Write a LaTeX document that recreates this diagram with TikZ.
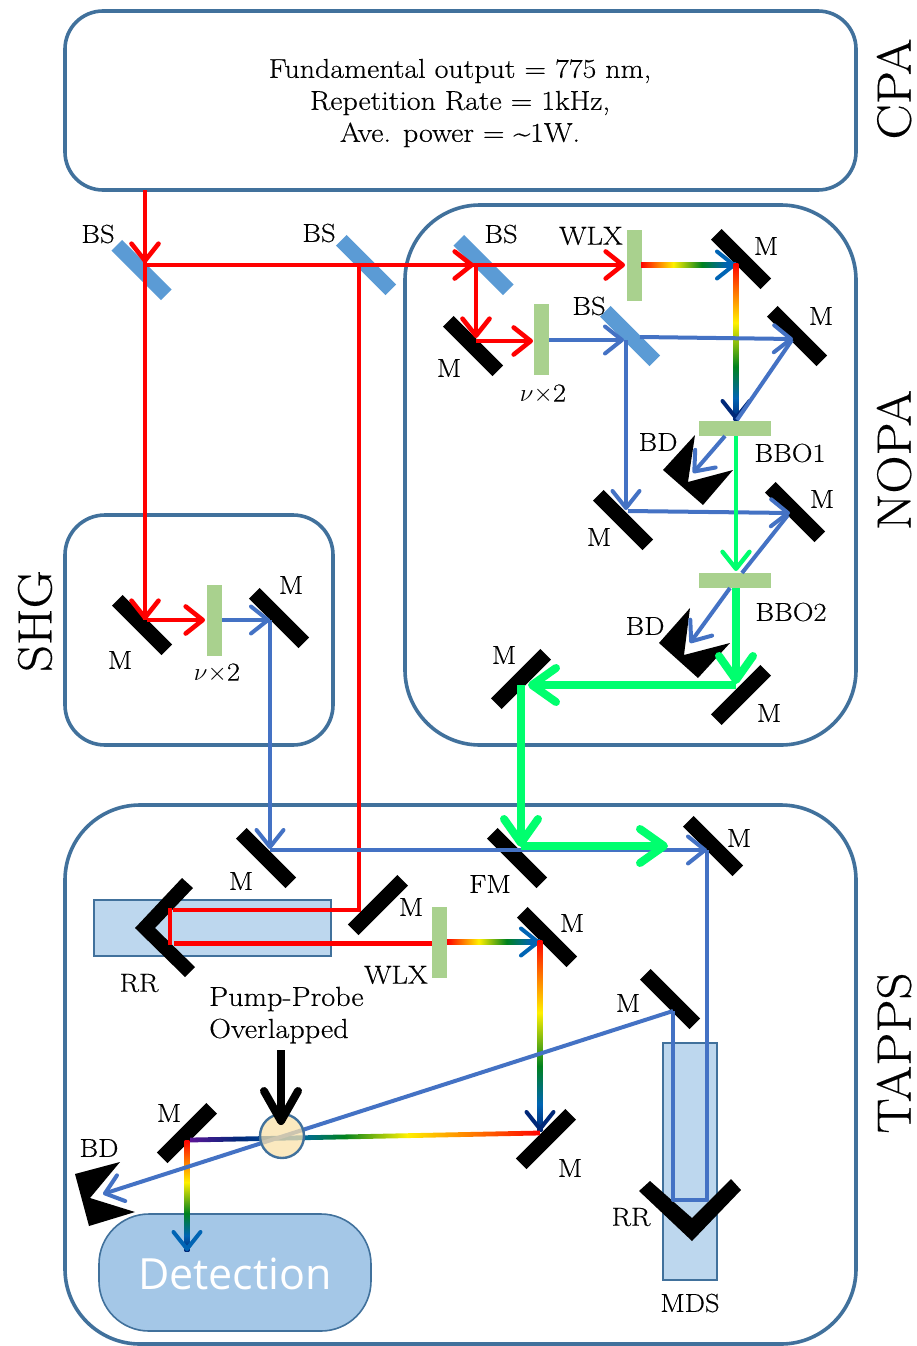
\documentclass[tikz,border=0pt]{standalone}
\usepackage{fontspec}
\setmainfont{Latin Modern Roman}[FakeStretch=1.1,FakeBold=0.35]
\newfontfamily\detfont{Open Sans}
\usetikzlibrary{arrows.meta,calc}
\definecolor{edgeblue}{RGB}{65,113,156}
\definecolor{bsblue}{RGB}{91,155,213}
\definecolor{plate}{RGB}{169,209,142}
\definecolor{beamblue}{RGB}{68,114,196}
\definecolor{beamgreen}{RGB}{0,255,110}
\definecolor{railblue}{RGB}{189,215,238}
\definecolor{detblue}{RGB}{164,199,231}
\definecolor{overlap}{RGB}{250,226,170}
\definecolor{rbA}{RGB}{255,0,0}
\definecolor{rbB}{RGB}{255,240,0}
\definecolor{rbC}{RGB}{0,130,30}
\definecolor{rbD}{RGB}{0,100,180}
\definecolor{rbE}{RGB}{0,40,120}
\definecolor{rbF}{RGB}{90,20,150}
\pgfdeclarehorizontalshading{rainbow}{100bp}{color(0bp)=(rbA);color(25bp)=(rbA);color(42bp)=(rbB);color(57bp)=(rbC);color(70bp)=(rbD);color(75bp)=(rbD);color(100bp)=(rbD)}
\pgfdeclarehorizontalshading{rainbowlong}{100bp}{color(0bp)=(rbA);color(25bp)=(rbA);color(44bp)=(rbB);color(53bp)=(rbC);color(60bp)=(rbD);color(68bp)=(rbE);color(75bp)=(rbF);color(100bp)=(rbF)}
\pgfdeclarehorizontalshading{rainbowdown}{100bp}{color(0bp)=(rbA);color(25bp)=(rbA);color(44bp)=(rbB);color(58bp)=(rbC);color(68bp)=(rbD);color(75bp)=(rbE);color(100bp)=(rbE)}
\tikzset{
  x=1pt,y=-1pt,
  group/.style={draw=edgeblue,line width=3.6pt,rounded corners=#1},
  mirror/.style={fill=black,minimum width=70pt,minimum height=15pt,inner sep=0pt,outer sep=0pt,rotate=#1},
  splitter/.style={fill=bsblue,minimum width=70pt,minimum height=15pt,inner sep=0pt,outer sep=0pt,rotate=-45},
  plateV/.style={fill=plate,minimum width=15pt,minimum height=71pt,inner sep=0pt,outer sep=0pt},
  plateH/.style={fill=plate,minimum width=72pt,minimum height=15pt,inner sep=0pt,outer sep=0pt},
  barbS/.style={-{Straight Barb[length=17pt,width=27pt,round]}},
  barbL/.style={-{Straight Barb[length=24pt,width=34pt,round]}},
  barbK/.style={-{Straight Barb[length=30pt,width=34pt,round]}},
  redb/.style={draw=red,line width=4.6pt},
  redtip/.style={redb,barbS},
  blueb/.style={draw=beamblue,line width=4pt},
  bluetip/.style={blueb,barbS},
  greenb/.style={draw=beamgreen,line width=4.4pt},
  greentip/.style={greenb,barbS},
  greenthick/.style={draw=beamgreen,line width=8pt},
  greenthicktip/.style={greenthick,barbL},
  lbl/.style={inner sep=0pt,font=\fontsize{26}{30}\selectfont,text=black},
  lblw/.style={inner sep=0pt,font=\fontsize{27.5}{32}\selectfont,text=black},
  side/.style={inner sep=0pt,rotate=90,font=\fontsize{48}{52}\selectfont,text=black},
  dumpfill/.style={fill=black},
}
% gradient beams: start point, end point
\newcommand\hrain[3][rainbow]{\shade[shading=#1,shading angle=0] ($(#2)+(0,-2.4)$) -- ($(#2)+(0,2.4)$) -- ($(#3)+(0,2.4)$) -- ($(#3)+(0,-2.4)$) -- cycle;}
\newcommand\lrain[3][rainbowlong]{\shade[shading=#1,shading angle=180] ($(#2)+(0,-2.4)$) -- ($(#2)+(0,2.4)$) -- ($(#3)+(0,2.4)$) -- ($(#3)+(0,-2.4)$) -- cycle;}
\newcommand\vrain[3][rainbowdown]{\shade[shading=#1,shading angle=-90] ($(#2)+(-2.4,0)$) -- ($(#2)+(2.4,0)$) -- ($(#3)+(2.4,0)$) -- ($(#3)+(-2.4,0)$) -- cycle;}
\begin{document}
\begin{tikzpicture}
\useasboundingbox (0,0) rectangle (917,1346);
% group boxes
\node[group=38pt,minimum width=791pt,minimum height=179pt,inner sep=0pt] (cpa) at (460.5,100.5) {};
\node[group=75pt,minimum width=451pt,minimum height=540pt,inner sep=0pt] (nopa) at (630.5,475) {};
\node[group=40pt,minimum width=268pt,minimum height=230pt,inner sep=0pt] (shg) at (199,630) {};
\node[group=75pt,minimum width=791pt,minimum height=539pt,inner sep=0pt] (tapps) at (460.5,1074.5) {};
\node[lblw,align=center,font=\fontsize{27.2}{32}\selectfont] (cpatext) at (460,103) {Fundamental output = 775 nm,\\Repetition Rate = 1kHz,\\Ave. power = \textasciitilde1W.};
\node[side] (lcpa) at (894,89) {CPA};
\node[side] (lnopa) at (894,460) {NOPA};
\node[side] (lshg) at (35,621) {SHG};
\node[side] (ltapps) at (894,1053) {TAPPS};
% translation stages and detector
\node[draw=edgeblue,line width=1.6pt,fill=railblue,minimum width=237pt,minimum height=56pt,inner sep=0pt] (railA) at (212.5,928) {};
\node[draw=edgeblue,line width=1.6pt,fill=railblue,minimum width=54pt,minimum height=237pt,inner sep=0pt] (railB) at (690,1161.5) {};
\node[draw=edgeblue,line width=1.6pt,fill=detblue,rounded corners=50pt,minimum width=272pt,minimum height=117pt,inner sep=0pt] (det) at (235,1272.5) {};
\node[inner sep=0pt,text=white,font=\detfont\fontsize{43}{48}\selectfont] (dettext) at (235,1274) {Detection};
% beam splitters
\node[splitter] (bs1) at (141.5,270) {};
\node[splitter] (bs2) at (366,265) {};
\node[splitter] (bs3) at (483.5,265) {};
\node[splitter] (bs4) at (630,336) {};
% mirrors
\node[mirror=-45] (m1) at (741,259) {};
\node[mirror=-45] (m2) at (797,336) {};
\node[mirror=-45] (m3) at (473,346) {};
\node[mirror=-45] (m4) at (623,520) {};
\node[mirror=-45] (m5) at (795,512) {};
\node[mirror=45] (m6) at (741,695) {};
\node[mirror=45] (m7) at (521,679) {};
\node[mirror=-45] (m8) at (142,625) {};
\node[mirror=-45] (m9) at (279,618) {};
\node[mirror=-45] (m10) at (266,858) {};
\node[mirror=-45] (fm) at (517,858) {};
\node[mirror=-45] (m11) at (713,846) {};
\node[mirror=45] (m12) at (378,905) {};
\node[mirror=-45] (m13) at (547,937) {};
\node[mirror=45] (m14) at (546,1139) {};
\node[mirror=-45] (m15) at (670,999) {};
\node[mirror=45] (m16) at (187,1133) {};
% crystals
\node[plateV] (wlx1) at (634.5,265) {};
\node[plateV] (dbl1) at (541.5,339) {};
\node[plateV] (dbl2) at (214.5,620) {};
\node[plateV] (wlx2) at (439.5,942) {};
\node[plateH] (bbo1) at (735,428.5) {};
\node[plateH] (bbo2) at (735,580.5) {};
% retroreflectors
\fill[black] (135,928) -- (182,878) -- (193,888) -- (155,928) -- (195,967) -- (185,977) -- cycle;
\fill[black] (692,1241) -- (639,1191) -- (650,1181) -- (692,1218) -- (731,1179) -- (741,1190) -- cycle;
% beam dumps
\fill[dumpfill] (695,435) -- (663,470) -- (703,505) -- (733,470) -- (688,482) -- cycle;
\fill[dumpfill] (690,608) -- (659,643) -- (698,678) -- (730,643) -- (684,655) -- cycle;
\fill[dumpfill] (120,1162) -- (75,1174) -- (89,1226) -- (135,1212) -- (90,1198) -- cycle;
% beam points
\foreach \n/\p in {
 a0/{145,190},a1/{145,263},a2/{145,620},a3/{145,265},a4/{474,265},a5/{490,265},a6/{625,265},
 a7/{359,265},a8/{359,910},a9/{173,910},a10/{170,908},a11/{170,945},a12/{174,943},a13/{432,943},
 a14/{476,265},a15/{476,338},a16/{476,341},a17/{533,341},
 b1/{549,340},b2/{624,340},b3/{640,337},b4/{793,339},b5/{792,340},b6/{737,420},b7/{725,436},b8/{693,473},
 b9/{626,340},b10/{626,510},b11/{628,511},b12/{790,513},b13/{788,515},b14/{742,573},b15/{730,588},b16/{690,643},
 c1/{147,620},c2/{205,620},c3/{222,620},c4/{270,620},c5/{270,849},c6/{270,850},c7/{705,850},c8/{707,850},c9/{707,1200},
 c10/{673,1200},c11/{673,1011},c12/{103,1194},
 g1/{736,436},g2/{736,571},g3/{736,588},g4/{736,684},g5/{736,685},g6/{528,685},g7/{521,685},g8/{521,847},g9/{521,846},g10/{668,846},
 r1/{641,265},r2/{736,265},r3/{736,263},r4/{736,420},r5/{447,942},r6/{540,942},r7/{540,940},r8/{540,1131},
 r9/{540,1133},r10/{190,1140},r11/{187,1140},r12/{187,1251},
 k1/{281,1050},k2/{281,1125}}{\coordinate (\n) at (\p);}
% gradient beams
\hrain{r1}{r2}
\draw[draw=rbD,line width=4pt,barbS] ($(r2)+(-3,0)$) -- (r2);
\vrain{r3}{r4}
\draw[draw=rbE,line width=4pt,barbS] ($(r4)+(0,-3)$) -- (r4);
\hrain{r5}{r6}
\draw[draw=rbD,line width=4pt,barbS] ($(r6)+(-3,0)$) -- (r6);
\vrain{r7}{r8}
\draw[draw=rbE,line width=4pt,barbS] ($(r8)+(0,-3)$) -- (r8);
\lrain{r9}{r10}
\vrain{r11}{r12}
\draw[draw=rbD,line width=4pt,barbS] ($(r12)+(0,-3)$) -- (r12);
% red beams
\draw[redb] (a0) -- (a2);
\draw[redtip] (a0) -- (a1);
\draw[redtip] (a0) -- (a2);
\draw[redb] (a3) -- (a5);
\draw[redtip] (a3) -- (a4);
\draw[redtip] (a5) -- (a6);
\draw[redb] (a7) -- (a8) -- (a9);
\draw[redb,line width=5pt] (a12) -- (a13);
\draw[redb] (a10) -- (a11);
\draw[redtip] (a14) -- (a15);
\draw[redtip] (a16) -- (a17);
\draw[redtip] (c1) -- (c2);
% blue beams
\draw[bluetip] (b1) -- (b2);
\draw[bluetip] (b3) -- (b4);
\draw[blueb] (b5) -- (b6);
\draw[bluetip] (b7) -- (b8);
\draw[bluetip] (b9) -- (b10);
\draw[bluetip] (b11) -- (b12);
\draw[blueb] (b13) -- (b14);
\draw[bluetip] (b15) -- (b16);
\draw[bluetip] (c3) -- (c4);
\draw[bluetip] (c4) -- (c5);
\draw[bluetip] (c6) -- (c8);
\draw[blueb,line join=round] (c8) -- (c9) -- (c10) -- (c11);
\draw[bluetip] (c11) -- (c12);
% green beams
\draw[greentip] (g1) -- (g2);
\draw[greenthicktip] (g3) -- (g4);
\draw[greenthicktip] (g5) -- (g6);
\draw[greenthicktip] (g7) -- (g8);
\draw[greenthicktip] (g9) -- (g10);
% overlap spot
\node[circle,draw=edgeblue,line width=2.4pt,fill=overlap,fill opacity=.75,draw opacity=1,minimum size=44pt,inner sep=0pt] (spot) at (282,1136) {};
\draw[draw=black,line width=8pt,barbK] (k1) -- (k2);
% labels
\node[lbl] (t1) at (98,234) {BS};
\node[lbl] (t2) at (319,233) {BS};
\node[lbl] (t3) at (501,234) {BS};
\node[lbl] (t4) at (591,236) {WLX};
\node[lbl] (t5) at (766,246) {M};
\node[lbl] (t6) at (589,306) {BS};
\node[lbl] (t7) at (821,316) {M};
\node[lbl] (t8) at (449,368) {M};
\node[lbl] (t9) at (543,394) {$\nu\times$2};
\node[lbl] (t10) at (658,442) {BD};
\node[lbl] (t11) at (790,453) {BBO1};
\node[lbl] (t12) at (822,499) {M};
\node[lbl] (t13) at (599,537) {M};
\node[lbl] (t14) at (791,612) {BBO2};
\node[lbl] (t15) at (645,626) {BD};
\node[lbl] (t16) at (504,655) {M};
\node[lbl] (t17) at (769,713) {M};
\node[lbl] (t18) at (291,585) {M};
\node[lbl] (t19) at (120,660) {M};
\node[lbl] (t20) at (217,673) {$\nu\times$2};
\node[lbl] (t21) at (241,881) {M};
\node[lbl] (t22) at (411,907) {M};
\node[lbl] (t23) at (490,884) {FM};
\node[lbl] (t24) at (739,838) {M};
\node[lbl] (t25) at (572,923) {M};
\node[lbl] (t26) at (396,975) {WLX};
\node[lbl] (t27) at (139,983) {RR};
\node[lblw,anchor=west] (t28) at (209,999) {Pump-Probe};
\node[lblw,anchor=west] (t29) at (209,1031) {Overlapped};
\node[lbl] (t30) at (628,1003) {M};
\node[lbl] (t31) at (169,1113) {M};
\node[lbl] (t32) at (99,1148) {BD};
\node[lbl] (t33) at (570,1168) {M};
\node[lbl] (t34) at (631,1217) {RR};
\node[lbl] (t35) at (690,1303) {MDS};
\end{tikzpicture}
\end{document}
